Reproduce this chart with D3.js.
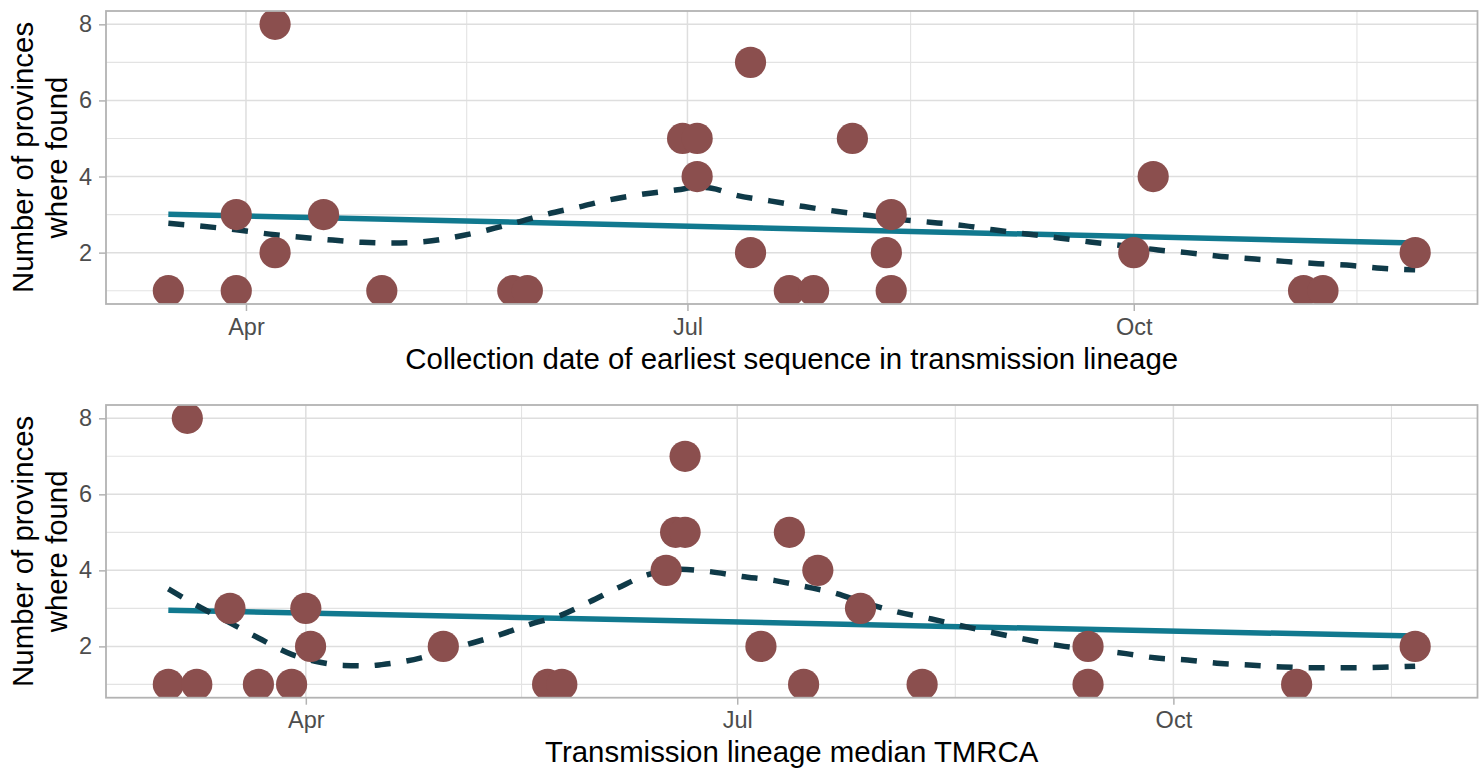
<!DOCTYPE html>
<html>
<head>
<meta charset="utf-8">
<script src="https://cdn.jsdelivr.net/npm/d3@7"></script>
<style>
  html, body { margin: 0; padding: 0; background: #fff; }
  svg { display: block; font-family: "Liberation Sans", Arial, Helvetica, sans-serif; }
</style>
</head>
<body>
<svg id="chart" width="1484" height="769"></svg>
<script>
// ---------- data ----------
const topDates = ["2020-03-16","2020-03-30","2020-03-30","2020-04-07","2020-04-07","2020-04-17","2020-04-29",
  "2020-05-26","2020-05-29","2020-06-30","2020-07-03","2020-07-03","2020-07-14","2020-07-14","2020-07-22",
  "2020-07-27","2020-08-04","2020-08-12","2020-08-11","2020-08-12","2020-10-01","2020-10-05","2020-11-05",
  "2020-11-09","2020-11-28"];
const topCounts = [1,3,1,8,2,3,1,1,1,5,5,4,7,2,1,1,5,3,2,1,2,4,1,1,2];

const topFitDates = ["2020-03-16","2020-03-30","2020-04-07","2020-04-17","2020-04-25","2020-05-01","2020-05-08",
  "2020-05-14","2020-05-21","2020-05-27","2020-06-02","2020-06-09","2020-06-15","2020-06-22","2020-06-29",
  "2020-07-03","2020-07-06","2020-07-11","2020-07-18","2020-07-25","2020-08-01","2020-08-08","2020-08-13",
  "2020-08-20","2020-08-27","2020-09-02","2020-09-09","2020-09-16","2020-09-22","2020-10-01","2020-10-06",
  "2020-10-12","2020-10-19","2020-10-26","2020-11-01","2020-11-08","2020-11-15","2020-11-21","2020-11-28"];
const topLoess = [2.77,2.60,2.47,2.35,2.27,2.25,2.29,2.41,2.60,2.80,3.01,3.21,3.39,3.54,3.65,3.72,3.69,3.51,3.36,
  3.21,3.08,2.97,2.88,2.80,2.71,2.60,2.49,2.38,2.28,2.15,2.07,2.00,1.90,1.83,1.77,1.71,1.66,1.59,1.55];
const topLinDates = ["2020-03-16","2020-11-28"];
const topLinear = [3.01, 2.25];

const botDates = ["2020-03-03","2020-03-09","2020-03-07","2020-03-16","2020-03-22","2020-03-29","2020-04-01",
  "2020-04-02","2020-04-30","2020-05-22","2020-05-25","2020-06-16","2020-06-18","2020-06-20","2020-06-20",
  "2020-07-06","2020-07-12","2020-07-15","2020-07-18","2020-07-27","2020-08-09","2020-09-13","2020-09-13",
  "2020-10-27","2020-11-21"];
const botCounts = [1,1,8,3,1,1,3,2,2,1,1,4,5,5,7,2,5,1,4,3,1,2,1,1,2];

const botFitDates = ["2020-03-03","2020-03-10","2020-03-16","2020-03-22","2020-03-29","2020-04-03","2020-04-09",
  "2020-04-14","2020-04-17","2020-04-22","2020-05-05","2020-05-12","2020-05-18","2020-05-25","2020-05-31",
  "2020-06-06","2020-06-12","2020-06-19","2020-06-25","2020-07-02","2020-07-09","2020-07-15","2020-07-22",
  "2020-07-28","2020-08-04","2020-08-11","2020-08-17","2020-08-24","2020-08-31","2020-09-07","2020-09-12",
  "2020-09-21","2020-09-27","2020-10-04","2020-10-11","2020-10-17","2020-10-24","2020-10-31","2020-11-07",
  "2020-11-14","2020-11-21"];
const botLoess = [3.51,3.01,2.62,2.22,1.79,1.61,1.50,1.49,1.52,1.61,2.05,2.31,2.57,2.83,3.18,3.55,3.88,4.03,3.97,
  3.84,3.73,3.58,3.39,3.14,2.90,2.72,2.55,2.36,2.18,2.02,1.94,1.81,1.70,1.64,1.55,1.51,1.46,1.44,1.44,1.45,1.48];
const botLinDates = ["2020-03-03","2020-11-21"];
const botLinear = [2.95, 2.27];

const yMajor = [2,4,6,8];
const yMinor = [1,3,5,7];
const yTitleLines = ["Number of provinces", "where found"];
const topXTitle = "Collection date of earliest sequence in transmission lineage";
const botXTitle = "Transmission lineage median TMRCA";

// ---------- drawing ----------
const parse = d3.utcParse("%Y-%m-%d");
const svg = d3.select("#chart");

const COL_PT = "#8b4f4e", COL_LM = "#11798f", COL_LO = "#0f3a48";

function panel(cfg, idx) {
  const {top, bottom, left, right, dates, counts, fitDates, fit, linDates, lin, xTitle, titleY} = cfg;
  const pts = dates.map((d, i) => ({x: parse(d), y: counts[i]}));
  const ext = d3.extent(pts, d => d.x);
  const span = ext[1] - ext[0];
  const x = d3.scaleUtc()
    .domain([new Date(+ext[0] - span * 0.05), new Date(+ext[1] + span * 0.05)])
    .range([left, right]);
  const y = d3.scaleLinear().domain([0.65, 8.35]).range([bottom, top]);

  const g = svg.append("g");
  const clipId = "clip" + idx;
  svg.append("clipPath").attr("id", clipId).append("rect")
    .attr("x", left).attr("y", top).attr("width", right - left).attr("height", bottom - top);

  // x breaks: quarters; minor breaks midway
  const [d0, d1] = x.domain();
  const allMaj = d3.utcMonth.every(3).range(d3.utcYear.floor(d0), d3.utcYear.offset(d3.utcYear.ceil(d1), 1));
  const xMajor = allMaj.filter(d => d >= d0 && d <= d1);
  const xMinor = [];
  for (let i = 0; i < allMaj.length - 1; i++) {
    const m = new Date((+allMaj[i] + +allMaj[i + 1]) / 2);
    if (m >= d0 && m <= d1) xMinor.push(m);
  }

  const grid = g.append("g");
  grid.selectAll(".hmin").data(yMinor).join("line")
    .attr("x1", left).attr("x2", right).attr("y1", d => y(d)).attr("y2", d => y(d))
    .attr("stroke", "#e3e3e3").attr("stroke-width", 1.1);
  grid.selectAll(".vmin").data(xMinor).join("line")
    .attr("y1", top).attr("y2", bottom).attr("x1", d => x(d)).attr("x2", d => x(d))
    .attr("stroke", "#e3e3e3").attr("stroke-width", 1.1);
  grid.selectAll(".hmaj").data(yMajor).join("line")
    .attr("x1", left).attr("x2", right).attr("y1", d => y(d)).attr("y2", d => y(d))
    .attr("stroke", "#dedede").attr("stroke-width", 1.5);
  grid.selectAll(".vmaj").data(xMajor).join("line")
    .attr("y1", top).attr("y2", bottom).attr("x1", d => x(d)).attr("x2", d => x(d))
    .attr("stroke", "#dedede").attr("stroke-width", 1.5);

  const plot = g.append("g").attr("clip-path", `url(#${clipId})`);

  const line = d3.line().x(d => x(d.x)).y(d => y(d.y));
  const linData = linDates.map((d, i) => ({x: parse(d), y: lin[i]}));
  plot.append("path").datum(linData).attr("d", line)
    .attr("fill", "none").attr("stroke", COL_LM).attr("stroke-width", 5.5);

  const fitData = fitDates.map((d, i) => ({x: parse(d), y: fit[i]}));
  plot.append("path").datum(fitData).attr("d", line.curve(d3.curveMonotoneX))
    .attr("fill", "none").attr("stroke", COL_LO).attr("stroke-width", 5.5)
    .attr("stroke-dasharray", "16,16");

  plot.selectAll("circle").data(pts).join("circle")
    .attr("cx", d => x(d.x)).attr("cy", d => y(d.y)).attr("r", 15.6)
    .attr("fill", COL_PT);

  // border
  g.append("rect").attr("x", left).attr("y", top).attr("width", right - left).attr("height", bottom - top)
    .attr("fill", "none").attr("stroke", "#b3b3b3").attr("stroke-width", 1.8);

  // axes
  const xa = g.append("g").attr("transform", `translate(0,${bottom})`)
    .call(d3.axisBottom(x).tickValues(xMajor).tickFormat(d3.utcFormat("%b")).tickSize(7).tickPadding(7));
  const ya = g.append("g").attr("transform", `translate(${left},0)`)
    .call(d3.axisLeft(y).tickValues(yMajor).tickFormat(d3.format("d")).tickSize(7).tickPadding(7));
  [xa, ya].forEach(a => {
    a.select(".domain").remove();
    a.selectAll(".tick line").attr("stroke", "#b3b3b3").attr("stroke-width", 1.5);
    a.selectAll(".tick text").attr("fill", "#4d4d4d").style("font-size", "23.5px")
      .style("font-family", "'Liberation Sans', Arial, Helvetica, sans-serif");
  });

  // titles
  g.append("text").attr("x", (left + right) / 2).attr("y", titleY).attr("text-anchor", "middle")
    .attr("fill", "#000").style("font-size", "29.4px").text(xTitle);

  const yt = g.append("text")
    .attr("transform", `translate(33,${(top + bottom) / 2}) rotate(-90)`)
    .attr("text-anchor", "middle").attr("fill", "#000").style("font-size", "29.4px");
  yTitleLines.forEach((t, i) => yt.append("tspan").attr("x", 0).attr("y", i * 33.5).text(t));
}

panel({top: 11, bottom: 304, left: 106, right: 1477.5,
  dates: topDates, counts: topCounts, fitDates: topFitDates, fit: topLoess,
  linDates: topLinDates, lin: topLinear, xTitle: topXTitle, titleY: 369}, 0);
panel({top: 405, bottom: 697.7, left: 106, right: 1477.5,
  dates: botDates, counts: botCounts, fitDates: botFitDates, fit: botLoess,
  linDates: botLinDates, lin: botLinear, xTitle: botXTitle, titleY: 762}, 1);
</script>
</body>
</html>
